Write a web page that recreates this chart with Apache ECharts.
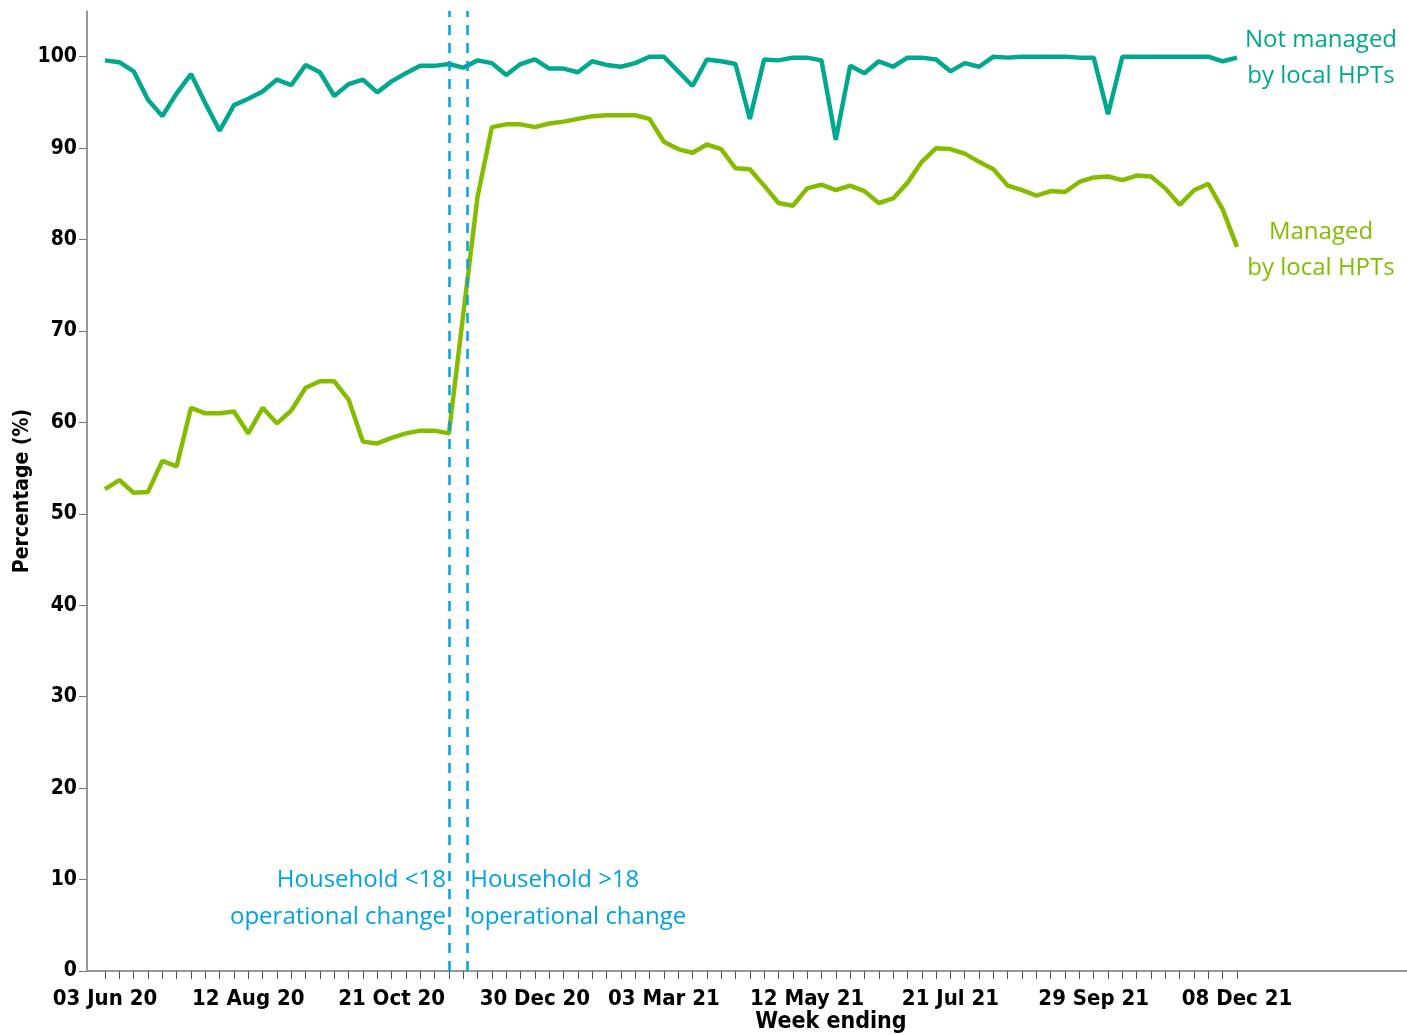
<!DOCTYPE html>
<html>
<head>
<meta charset="utf-8">
<script src="https://cdn.jsdelivr.net/npm/echarts@6/dist/echarts.min.js"></script>
<style>
  html, body { margin: 0; padding: 0; background: #fff; }
  #chart { width: 1407px; height: 1034px; }
</style>
</head>
<body>
<div id="chart"></div>
<script>
// weekly categories (week ending)
const weeks = [
  '03 Jun 20', '10 Jun 20', '17 Jun 20', '24 Jun 20', '01 Jul 20', '08 Jul 20', '15 Jul 20', '22 Jul 20', '29 Jul 20', '05 Aug 20',
  '12 Aug 20', '19 Aug 20', '26 Aug 20', '02 Sep 20', '09 Sep 20', '16 Sep 20', '23 Sep 20', '30 Sep 20', '07 Oct 20', '14 Oct 20',
  '21 Oct 20', '28 Oct 20', '04 Nov 20', '11 Nov 20', '18 Nov 20', '25 Nov 20', '02 Dec 20', '09 Dec 20', '16 Dec 20', '23 Dec 20',
  '30 Dec 20', '06 Jan 21', '13 Jan 21', '20 Jan 21', '27 Jan 21', '03 Feb 21', '10 Feb 21', '17 Feb 21', '24 Feb 21', '03 Mar 21',
  '10 Mar 21', '17 Mar 21', '24 Mar 21', '31 Mar 21', '07 Apr 21', '14 Apr 21', '21 Apr 21', '28 Apr 21', '05 May 21', '12 May 21',
  '19 May 21', '26 May 21', '02 Jun 21', '09 Jun 21', '16 Jun 21', '23 Jun 21', '30 Jun 21', '07 Jul 21', '14 Jul 21', '21 Jul 21',
  '28 Jul 21', '04 Aug 21', '11 Aug 21', '18 Aug 21', '25 Aug 21', '01 Sep 21', '08 Sep 21', '15 Sep 21', '22 Sep 21', '29 Sep 21',
  '06 Oct 21', '13 Oct 21', '20 Oct 21', '27 Oct 21', '03 Nov 21', '10 Nov 21', '17 Nov 21', '24 Nov 21', '01 Dec 21', '08 Dec 21'
];

const tickLabels = ['03 Jun 20', '12 Aug 20', '21 Oct 20', '30 Dec 20', '03 Mar 21', '12 May 21', '21 Jul 21', '29 Sep 21', '08 Dec 21'];
const yTicks = [0, 10, 20, 30, 40, 50, 60, 70, 80, 90, 100];

const notManaged = [
  99.6, 99.4, 98.4, 95.3, 93.5, 96.0, 98.1, 94.9, 91.9, 94.7,
  95.4, 96.2, 97.5, 96.9, 99.1, 98.3, 95.7, 97.0, 97.5, 96.1,
  97.3, 98.2, 99.0, 99.0, 99.2, 98.8, 99.6, 99.3, 98.0, 99.2,
  99.7, 98.7, 98.7, 98.3, 99.5, 99.1, 98.9, 99.3, 100.0, 100.0,
  98.4, 96.8, 99.7, 99.5, 99.2, 93.2, 99.7, 99.6, 99.9, 99.9,
  99.6, 90.9, 99.0, 98.2, 99.5, 98.9, 99.9, 99.9, 99.7, 98.4,
  99.3, 98.9, 100.0, 99.9, 100.0, 100.0, 100.0, 100.0, 99.9, 99.9,
  93.7, 100.0, 100.0, 100.0, 100.0, 100.0, 100.0, 100.0, 99.5, 99.9
];

const managed = [
  52.7, 53.7, 52.3, 52.4, 55.8, 55.2, 61.6, 61.0, 61.0, 61.2,
  58.8, 61.6, 59.9, 61.3, 63.8, 64.5, 64.5, 62.5, 57.9, 57.7,
  58.3, 58.8, 59.1, 59.1, 58.8, 71.8, 84.7, 92.3, 92.6, 92.6,
  92.3, 92.7, 92.9, 93.2, 93.5, 93.6, 93.6, 93.6, 93.2, 90.7,
  89.9, 89.5, 90.4, 89.9, 87.8, 87.7, 85.9, 84.0, 83.7, 85.6,
  86.0, 85.4, 85.9, 85.3, 84.0, 84.5, 86.2, 88.5, 90.0, 89.9,
  89.4, 88.5, 87.7, 85.9, 85.4, 84.8, 85.3, 85.2, 86.3, 86.8,
  86.9, 86.5, 87.0, 86.9, 85.6, 83.8, 85.4, 86.1, 83.3, 79.2
];

// operational changes, in weeks from 03 Jun 20
const changeWeeks = [24, 25.28];
const changeTexts = ['Household <18\noperational change', 'Household >18\noperational change'];

const teal = '#00A88F';
const green = '#84BD00';
const blue = '#00A3E0';
const axisFont = "'Liberation Sans Narrow', 'Arial Narrow', 'DejaVu Sans Condensed', sans-serif";
const textFont = "'Open Sans', 'Noto Sans', sans-serif";

const chart = echarts.init(document.getElementById('chart'));

const option = {
  animation: false,
  grid: [
    { left: 105, right: 170, top: 11, bottom: 63, outerBoundsMode: 'none' },
    { left: 87, right: 0, top: 11, bottom: 63, outerBoundsMode: 'none' }
  ],
  xAxis: [
    {
      type: 'category',
      gridIndex: 0,
      data: weeks,
      boundaryGap: false,
      axisLine: { show: true, lineStyle: { color: '#999', width: 2 } },
      axisTick: {
        show: true, length: 8, interval: 0,
        lineStyle: { color: '#555', width: 1 }
      },
      axisLabel: {
        interval: (idx, val) => tickLabels.includes(val),
        margin: 17,
        color: '#000',
        fontFamily: axisFont,
        fontWeight: 'bold',
        fontSize: 22
      },
      splitLine: { show: false }
    },
    {
      type: 'value',
      gridIndex: 1,
      min: -1.256,
      max: 90.864,
      axisLine: { show: true, onZero: false, lineStyle: { color: '#999', width: 2 } },
      axisTick: { show: false },
      axisLabel: { show: false },
      splitLine: { show: false },
      name: 'Week ending',
      nameLocation: 'middle',
      nameGap: 40,
      nameMoveOverlap: false,
      nameTextStyle: {
        color: '#000',
        fontFamily: axisFont,
        fontWeight: 'bold',
        fontSize: 23,
        padding: [0, 0, 0, 168]
      }
    }
  ],
  yAxis: [
    {
      type: 'value',
      gridIndex: 0,
      min: 0,
      max: 105,
      show: false
    },
    {
      type: 'value',
      gridIndex: 1,
      min: 0,
      max: 105,
      axisLine: { show: true, onZero: false, lineStyle: { color: '#777', width: 1.5 } },
      axisTick: { show: true, length: 8, customValues: yTicks, lineStyle: { color: '#777' } },
      axisLabel: {
        customValues: yTicks,
        margin: 10,
        color: '#000',
        fontFamily: axisFont,
        fontWeight: 'bold',
        fontSize: 21
      },
      splitLine: { show: false },
      name: 'Percentage (%)',
      nameLocation: 'middle',
      nameGap: 54,
      nameMoveOverlap: false,
      nameTextStyle: {
        color: '#000',
        fontFamily: axisFont,
        fontWeight: 'bold',
        fontSize: 21
      }
    }
  ],
  series: [
    {
      name: 'Managed by local HPTs',
      type: 'line',
      xAxisIndex: 0,
      yAxisIndex: 0,
      data: managed,
      symbol: 'none',
      lineStyle: { color: green, width: 4.5 },
      endLabel: {
        show: true,
        formatter: 'Managed\nby local HPTs',
        color: green,
        fontFamily: textFont,
        fontSize: 24,
        lineHeight: 36,
        align: 'center',
        verticalAlign: 'middle',
        offset: [76, 3]
      }
    },
    {
      name: 'Not managed by local HPTs',
      type: 'line',
      xAxisIndex: 0,
      yAxisIndex: 0,
      data: notManaged,
      symbol: 'none',
      lineStyle: { color: teal, width: 4.5 },
      endLabel: {
        show: true,
        formatter: 'Not managed\nby local HPTs',
        color: teal,
        fontFamily: textFont,
        fontSize: 24,
        lineHeight: 36,
        align: 'center',
        verticalAlign: 'middle',
        offset: [76, 1]
      }
    },
    {
      name: 'changes',
      type: 'line',
      xAxisIndex: 1,
      yAxisIndex: 1,
      data: [],
      markLine: {
        silent: true,
        symbol: 'none',
        label: { show: false },
        lineStyle: { color: blue, type: [10, 8], width: 2.5 },
        data: changeWeeks.map(w => ({ xAxis: w }))
      },
      markPoint: {
        silent: true,
        symbol: 'circle',
        symbolSize: 0,
        data: changeWeeks.map((w, i) => ({
          coord: [w, 7.93],
          label: {
            show: true,
            formatter: changeTexts[i],
            position: i === 0 ? 'left' : 'right',
            distance: 3,
            align: i === 0 ? 'right' : 'left',
            color: blue,
            fontFamily: textFont,
            fontSize: 24,
            lineHeight: 37
          }
        }))
      }
    }
  ]
};

chart.setOption(option);
</script>
</body>
</html>
